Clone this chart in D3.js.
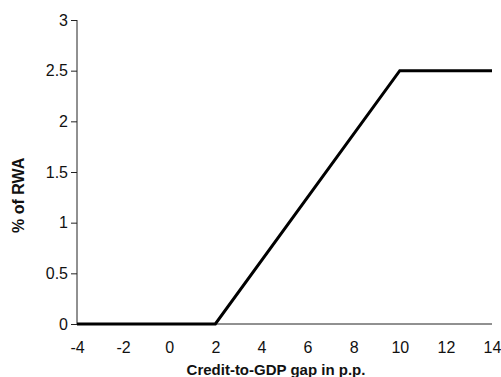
<!DOCTYPE html>
<html>
<head>
<meta charset="utf-8">
<script src="https://cdn.jsdelivr.net/npm/d3@7"></script>
<style>
html,body{margin:0;padding:0;background:#fff;}
svg{display:block;}
</style>
</head>
<body>
<svg id="chart" width="501" height="377"></svg>
<script>
const gapValues = [-4, 2, 10, 14];
const bufferValues = [0, 0, 2.5, 2.5];
const xTicks = [-4, -2, 0, 2, 4, 6, 8, 10, 12, 14];
const yTicks = [0, 0.5, 1, 1.5, 2, 2.5, 3];
const xTitle = "Credit-to-GDP gap in p.p.";
const yTitle = "% of RWA";

const svg = d3.select("#chart");
const x = d3.scaleLinear().domain([-4, 14]).range([77, 492]);
const y = d3.scaleLinear().domain([0, 3]).range([324, 20]);
const font = "'Liberation Sans', Arial, sans-serif";
const fmt = d => String(d);

const yAxis = svg.append("g").attr("transform", "translate(77,0)")
  .call(d3.axisLeft(y).tickValues(yTicks).tickSize(6).tickPadding(3).tickFormat(fmt));
yAxis.select(".domain").attr("stroke", "#222").attr("d", `M0,${y(3)}V${y(0)}`);
yAxis.selectAll("line").attr("stroke", "#222");
yAxis.selectAll("text").attr("font-family", font).attr("font-size", 16).attr("fill", "#111");

const xAxis = svg.append("g").attr("transform", `translate(0,${y(0)})`)
  .call(d3.axisBottom(x).tickValues(xTicks).tickSize(0).tickPadding(18).tickFormat(fmt));
xAxis.select(".domain").attr("stroke", "#222").attr("d", `M${x(-4)},0H${x(14)}`);
xAxis.selectAll("text").attr("font-family", font).attr("font-size", 16).attr("fill", "#111");

const pts = gapValues.map((g, i) => [g, bufferValues[i]]);
svg.append("path").datum(pts)
  .attr("fill", "none").attr("stroke", "#000").attr("stroke-width", 3)
  .attr("d", d3.line().x(d => x(d[0])).y(d => y(d[1])));

svg.append("text").attr("x", 276).attr("y", 375).attr("text-anchor", "middle")
  .attr("font-family", font).attr("font-weight", "bold").attr("font-size", 15).attr("fill", "#111")
  .text(xTitle);
svg.append("text").attr("transform", `translate(24,${y(1.27)}) rotate(-90)`).attr("text-anchor", "middle")
  .attr("font-family", font).attr("font-weight", "bold").attr("font-size", 16).attr("fill", "#111")
  .text(yTitle);
</script>
</body>
</html>
